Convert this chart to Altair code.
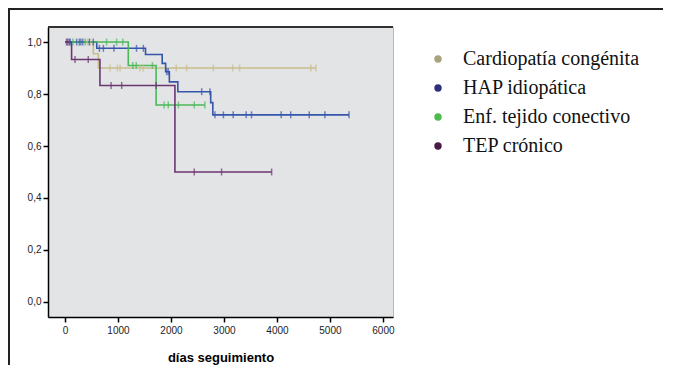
import altair as alt
import pandas as pd

groups = ["Cardiopatía congénita", "HAP idiopática", "Enf. tejido conectivo", "TEP crónico"]
line_colors = ["#c8bd8c", "#3656ab", "#4cb85a", "#6c3574"]
legend_colors = ["#aaa27c", "#2e2e7c", "#4cbb4c", "#4a1a44"]

# step change times and survival values, plus follow-up end
step_t = {
    "Cardiopatía congénita": [0, 535, 630],
    "HAP idiopática": [0, 600, 1520, 1835, 1900, 1970, 2130, 2750, 2790],
    "Enf. tejido conectivo": [0, 1195, 1720],
    "TEP crónico": [0, 125, 660, 2075],
}
step_s = {
    "Cardiopatía congénita": [1.0, 0.955, 0.90],
    "HAP idiopática": [1.0, 0.976, 0.952, 0.918, 0.886, 0.847, 0.809, 0.767, 0.72],
    "Enf. tejido conectivo": [1.0, 0.91, 0.758],
    "TEP crónico": [1.0, 0.933, 0.833, 0.5],
}
end_t = {
    "Cardiopatía congénita": 4735,
    "HAP idiopática": 5360,
    "Enf. tejido conectivo": 2640,
    "TEP crónico": 3900,
}
censor_t = {
    "Cardiopatía congénita": [420, 480, 850, 990, 1040, 1415, 1480, 2100, 2295, 2800, 3165, 3295, 4640, 4735],
    "HAP idiopática": [50, 100, 220, 270, 300, 335, 460, 535, 650, 725, 925, 1350, 1480,
                       1920, 1950, 2580, 2735, 2830, 2990, 3175, 3420, 3520, 4080, 4260,
                       4610, 4905, 5360],
    "Enf. tejido conectivo": [150, 380, 785, 975, 1090, 1280, 1345, 1650, 1870, 1950, 2140, 2440, 2640],
    "TEP crónico": [30, 80, 190, 440, 870, 1070, 1720, 2440, 2955, 3900],
}

line_rows, cens_rows = [], []
for g in groups:
    ts, ss = step_t[g], step_s[g]
    for t, s in zip(ts, ss):
        line_rows.append({"grupo": g, "t": t, "s": s})
    line_rows.append({"grupo": g, "t": end_t[g], "s": ss[-1]})
    for c in censor_t[g]:
        s_val = [s for t, s in zip(ts, ss) if t <= c][-1]
        cens_rows.append({"grupo": g, "t": c, "s": s_val})

lines_df = pd.DataFrame(line_rows)
cens_df = pd.DataFrame(cens_rows)

# data-driven (alphabetical) domain for the line/tick scales
sorted_groups = sorted(groups)
line_range = [line_colors[groups.index(g)] for g in sorted_groups]

x_ticks = [0, 1000, 2000, 3000, 4000, 5000, 6000]
y_ticks = [0.0, 0.2, 0.4, 0.6, 0.8, 1.0]

xs = alt.Scale(domain=[-320, 6190], nice=False, zero=False)
ys = alt.Scale(domain=[-0.058, 1.058], nice=False, zero=False)

x_enc = alt.X("t:Q", scale=xs, axis=alt.Axis(
    values=x_ticks, format="d", title="días seguimiento", grid=False,
    titleFont="Liberation Sans", titleFontSize=13, titleFontWeight="bold",
    titleColor="#000", titlePadding=16,
    labelFont="Liberation Sans", labelFontSize=10, labelColor="#222",
    domainColor="#000", domainWidth=1.5, tickColor="#000", tickWidth=1.5, tickSize=5,
    labelPadding=3))
y_enc = alt.Y("s:Q", scale=ys, axis=alt.Axis(
    values=y_ticks, title=None, grid=False,
    labelExpr="replace(format(datum.value, '.1f'), '.', ',')",
    labelFont="Liberation Sans", labelFontSize=10, labelColor="#222",
    domainColor="#000", domainWidth=1.5, tickColor="#000", tickWidth=1.5, tickSize=5,
    labelPadding=2))

lines = alt.Chart(lines_df).mark_line(interpolate="step-after", strokeWidth=1.6).encode(
    x=x_enc, y=y_enc,
    stroke=alt.Stroke("grupo:N", scale=alt.Scale(range=line_range), legend=None),
    detail="grupo:N",
)

ticks = alt.Chart(cens_df).mark_tick(orient="vertical", size=7, thickness=1.5).encode(
    x="t:Q", y="s:Q",
    fill=alt.Fill("grupo:N", scale=alt.Scale(range=line_range), legend=None),
)

legend_layer = alt.Chart(cens_df).mark_point(filled=True, size=0, opacity=1).encode(
    x="t:Q", y="s:Q",
    color=alt.Color("grupo:N", scale=alt.Scale(domain=groups, range=legend_colors),
                    legend=alt.Legend(title=None, orient="none", legendX=380, legendY=22,
                                      symbolType="circle", symbolSize=55,
                                      labelFont="Liberation Serif", labelFontSize=20,
                                      labelColor="#111", rowPadding=9, labelOffset=15,
                                      padding=0, symbolStrokeWidth=0, labelLimit=300)),
)

top_rule = alt.Chart(lines_df).mark_rule(color="#333", strokeWidth=1.5).encode(
    x=alt.value(0), x2=alt.value(345), y=alt.value(0))

frame_top = alt.Chart(lines_df).mark_rule(color="#222", strokeWidth=1.5).encode(
    x=alt.value(-40), x2=alt.value(660), y=alt.value(-18.3))
frame_left = alt.Chart(lines_df).mark_rule(color="#222", strokeWidth=1.5).encode(
    x=alt.value(-39.3), y=alt.value(-19), y2=alt.value(345))

chart = alt.layer(lines, ticks, legend_layer, top_rule, frame_top, frame_left).properties(
    width=345, height=290,
    autosize=alt.AutoSizeParams(type="none"),
    padding={"left": 40, "top": 19, "right": 270, "bottom": 48},
).configure(
    background="white"
).configure_view(
    fill="#e3e4e6", stroke="#b8b8b8", strokeWidth=1
)

chart.save("out.html", embed_options={"renderer": "svg", "actions": False})
